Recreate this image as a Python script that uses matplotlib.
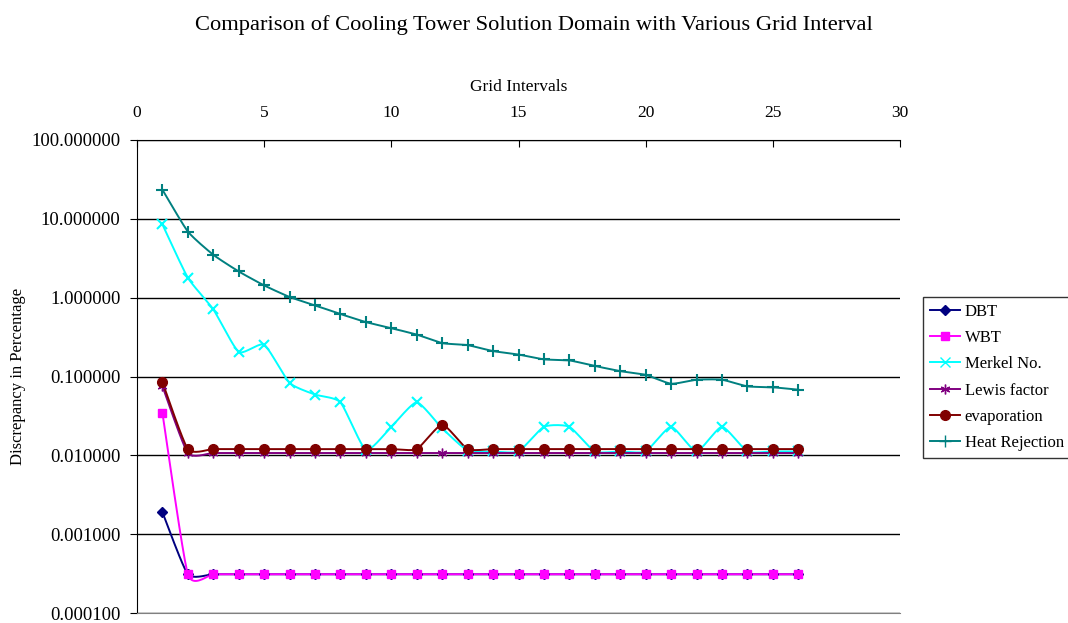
import numpy as np
import matplotlib
matplotlib.use("Agg")
import matplotlib.pyplot as plt
from matplotlib.ticker import FixedLocator, FuncFormatter

plt.rcParams["font.family"] = ["Liberation Serif", "DejaVu Serif"]

grid = list(range(1, 27))

dbt = [0.0019] + [0.00031] * 25
wbt = [0.0344] + [0.00031] * 25
merkel = [8.5, 1.79, 0.71, 0.205, 0.253, 0.083, 0.059, 0.047, 0.0117, 0.023,
          0.047, 0.022, 0.0115, 0.0112, 0.0112, 0.023, 0.023, 0.0112, 0.0112, 0.0112,
          0.023, 0.0112, 0.023, 0.0112, 0.0112, 0.0112]
lewis = [0.0755] + [0.0107] * 25
evaporation = [0.085] + [0.012] * 10 + [0.0245] + [0.012] * 14
heat_rejection = [23.4, 6.9, 3.5, 2.15, 1.43, 1.02, 0.80, 0.62, 0.49, 0.41,
                  0.34, 0.265, 0.25, 0.21, 0.19, 0.165, 0.16, 0.136, 0.117, 0.105,
                  0.081, 0.091, 0.091, 0.075, 0.073, 0.068]

series = [
    ("DBT", dbt, "#000080", "D", 5),
    ("WBT", wbt, "#FF00FF", "s", 6),
    ("Merkel No.", merkel, "#00FFFF", "x", 7),
    ("Lewis factor", lewis, "#800080", (6, 2, 0), 7),
    ("evaporation", evaporation, "#800000", "o", 7),
    ("Heat Rejection", heat_rejection, "#008080", "+", 8),
]


def smooth(xs, ys, n=20, c=0.28):
    # cardinal spline through the points in (x, log y), a bit like Excel's smoothed line
    x = np.asarray(xs, float)
    y = np.log10(np.asarray(ys, float))
    px = np.concatenate([[x[0]], x, [x[-1]]])
    py = np.concatenate([[y[0]], y, [y[-1]]])
    t = np.linspace(0, 1, n, endpoint=False)
    h00 = 2 * t**3 - 3 * t**2 + 1
    h10 = t**3 - 2 * t**2 + t
    h01 = -2 * t**3 + 3 * t**2
    h11 = t**3 - t**2
    outx, outy = [], []
    for i in range(1, len(px) - 2):
        for p, out in ((px, outx), (py, outy)):
            m1 = c * (p[i + 1] - p[i - 1])
            m2 = c * (p[i + 2] - p[i])
            out.extend(h00 * p[i] + h10 * m1 + h01 * p[i + 1] + h11 * m2)
    outx.append(x[-1]); outy.append(y[-1])
    return np.array(outx), 10 ** np.array(outy)


fig = plt.figure(figsize=(10.68, 6.23), dpi=100)
ax = fig.add_axes([137 / 1068, 10 / 623, 763 / 1068, 473 / 623])

for name, vals, color, marker, ms in series:
    sx, sy = smooth(grid, vals)
    ax.plot(sx, sy, color=color, lw=1.4, zorder=3)
    ax.plot(grid, vals, ls="none", marker=marker, color=color, ms=ms,
            markeredgewidth=1.5 if marker in ("x", "+") else 1, zorder=4)
    ax.plot([], [], color=color, lw=1.4, marker=marker, ms=ms, label=name)

ax.set_yscale("log")
ax.set_ylim(0.0001, 100)
ax.set_xlim(0, 30)
ax.yaxis.set_major_locator(FixedLocator([1e-4, 1e-3, 1e-2, 1e-1, 1, 10, 100]))
ax.yaxis.set_minor_locator(FixedLocator([]))
ax.yaxis.set_major_formatter(FuncFormatter(lambda v, p: f"{v:.6f}"))
ax.set_xticks(range(0, 31, 5))
ax.xaxis.tick_top()
ax.xaxis.set_label_position("top")
ax.tick_params(axis="x", direction="in", length=5, labelsize=12.5, pad=14)
ax.tick_params(axis="y", direction="out", length=5, labelsize=13.5, pad=7)
ax.grid(axis="y", color="black", lw=1)
ax.spines["right"].set_visible(False)
ax.spines["bottom"].set_color("gray")
ax.set_xlabel("Grid Intervals", fontsize=12.5, labelpad=10)
ax.set_ylabel("Discrepancy in Percentage", fontsize=12, labelpad=4)
fig.suptitle("Comparison of Cooling Tower Solution Domain with Various Grid Interval",
             fontsize=16.2, y=0.975)

leg = fig.legend(loc="upper left", bbox_to_anchor=(923 / 1068, 1 - 297 / 623),
                 frameon=True, fancybox=False, edgecolor="black", fontsize=12,
                 handlelength=1.8, handletextpad=0.3, borderpad=0.4,
                 borderaxespad=0, labelspacing=0.62)
leg.get_frame().set_linewidth(1)

fig.savefig("out.png", dpi=100)
